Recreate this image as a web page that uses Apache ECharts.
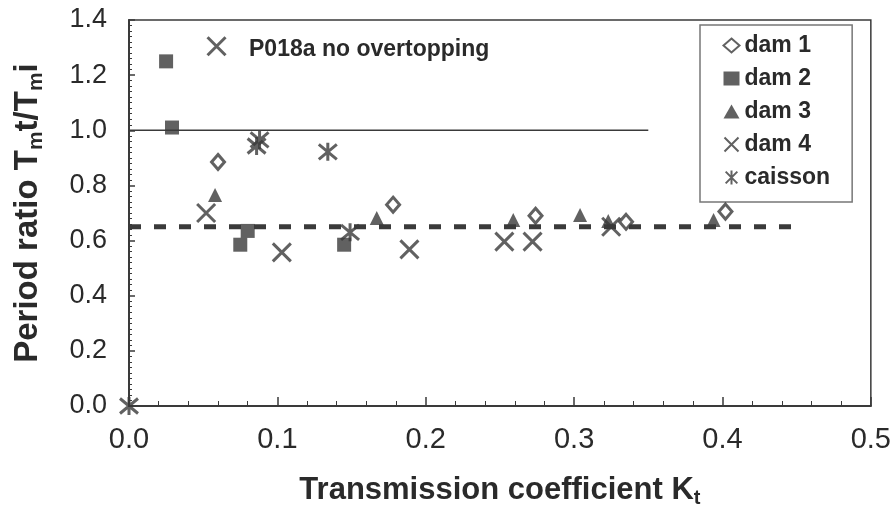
<!DOCTYPE html>
<html>
<head>
<meta charset="utf-8">
<script src="https://cdn.jsdelivr.net/npm/echarts@6/dist/echarts.min.js"></script>
<style>
html,body{margin:0;padding:0;background:#fff;}
#chart{width:894px;height:525px;}
</style>
</head>
<body>
<div id="chart"></div>
<script>
// ---- data ----
const dam1 = [[0.060,0.885],[0.178,0.73],[0.274,0.69],[0.335,0.668],[0.402,0.705]];
const dam2 = [[0.025,1.25],[0.029,1.01],[0.075,0.585],[0.080,0.635],[0.145,0.585]];
const dam3 = [[0.058,0.765],[0.167,0.682],[0.259,0.675],[0.304,0.693],[0.323,0.671],[0.394,0.675]];
const dam4 = [[0.059,1.305],[0.052,0.70],[0.103,0.557],[0.189,0.568],[0.253,0.596],[0.272,0.596],[0.325,0.65]];
const caisson = [[0,0],[0.086,0.943],[0.088,0.965],[0.134,0.922],[0.149,0.63]];
const unityLine = [[0,1.0],[0.35,1.0]];
const meanLine = [[0,0.65],[0.45,0.65]];
const seriesNames = ['dam 1','dam 2','dam 3','dam 4','caisson'];
const annotationText = 'P018a no overtopping';
const xTicks = {min:0, max:0.5, interval:0.1};
const yTicks = {min:0, max:1.4, interval:0.2};

const FONT = "'Liberation Sans', Arial, sans-serif";
const INK = '#3a3a3a';
const TXT = '#2a2a2a';
const xPath = 'path://M0,0L10,10M10,0L0,10';
const starPath = 'path://M0,0L10,10M10,0L0,10M5,-1L5,11';

const chart = echarts.init(document.getElementById('chart'), null, {renderer:'canvas'});

function scatter(name, data, symbol, size, style){
  return {
    name, type:'scatter', data, symbol, symbolSize:size, clip:false, z:5,
    itemStyle: style
  };
}

const option = {
  backgroundColor:'#fff',
  animation:false,
  grid:{left:129, right:23, top:20, bottom:119, show:true, borderColor:INK, borderWidth:1.5, containLabel:false},
  legend:{
    orient:'vertical', left:700, top:25,
    data:seriesNames,
    itemWidth:16, itemHeight:14, itemGap:10,
    padding:[9,22,13,22],
    borderColor:'#777', borderWidth:1.5,
    textStyle:{fontFamily:FONT, fontSize:23, fontWeight:'bold', color:TXT, lineHeight:22}
  },
  xAxis:{
    type:'value', min:xTicks.min, max:xTicks.max, interval:xTicks.interval,
    name:'{a|Transmission coefficient K}{s|t}',
    nameLocation:'middle', nameGap:66,
    nameTextStyle:{
      rich:{
        a:{fontFamily:FONT, fontSize:31, fontWeight:'bold', color:TXT, lineHeight:36},
        s:{fontFamily:FONT, fontSize:20, fontWeight:'bold', color:TXT, verticalAlign:'bottom', lineHeight:20}
      }
    },
    axisLine:{lineStyle:{color:INK, width:2}},
    axisTick:{inside:true, length:9, lineStyle:{color:INK, width:1.5}},
    minorTick:{show:true, splitNumber:5, length:5, lineStyle:{color:INK, width:1}},
    splitLine:{show:false},
    axisLabel:{fontFamily:FONT, fontSize:29, color:TXT, margin:19,
      formatter:v=>v.toFixed(1)}
  },
  yAxis:{
    type:'value', min:yTicks.min, max:yTicks.max, interval:yTicks.interval,
    name:'{a|Period ratio T}{s|m}{a|t/T}{s|m}{a|i}',
    nameLocation:'middle', nameGap:82, nameRotate:90,
    nameTextStyle:{
      rich:{
        a:{fontFamily:FONT, fontSize:33, fontWeight:'bold', color:TXT, lineHeight:38},
        s:{fontFamily:FONT, fontSize:21, fontWeight:'bold', color:TXT, verticalAlign:'bottom', lineHeight:24}
      }
    },
    axisLine:{lineStyle:{color:INK, width:2}},
    axisTick:{inside:true, length:6, lineStyle:{color:INK, width:1.5}},
    minorTick:{show:true, splitNumber:10, length:3, lineStyle:{color:INK, width:1}},
    splitLine:{show:false},
    axisLabel:{fontFamily:FONT, fontSize:27, color:TXT, margin:22,
      formatter:v=>v.toFixed(1)}
  },
  graphic:[{
    type:'text', left:249, top:38,
    style:{text:annotationText, font:"bold 23px 'Liberation Sans', Arial, sans-serif", fill:TXT}
  }],
  series:[
    {type:'line', data:unityLine, symbol:'none', silent:true, z:2,
      lineStyle:{color:INK, width:1.5}},
    {type:'line', data:meanLine, symbol:'none', silent:true, z:2,
      lineStyle:{color:INK, width:5, type:[12,13]}},
    scatter('dam 1', dam1, 'diamond', [13,15], {color:'#fff', borderColor:INK, borderWidth:3}),
    scatter('dam 2', dam2, 'rect', 14, {color:INK}),
    scatter('dam 3', dam3, 'triangle', 14, {color:INK}),
    scatter('dam 4', dam4, xPath, 18, {color:'none', borderColor:INK, borderWidth:3}),
    scatter('caisson', caisson, starPath, 18, {color:'none', borderColor:INK, borderWidth:3})
  ]
};
chart.setOption(option);
</script>
</body>
</html>
